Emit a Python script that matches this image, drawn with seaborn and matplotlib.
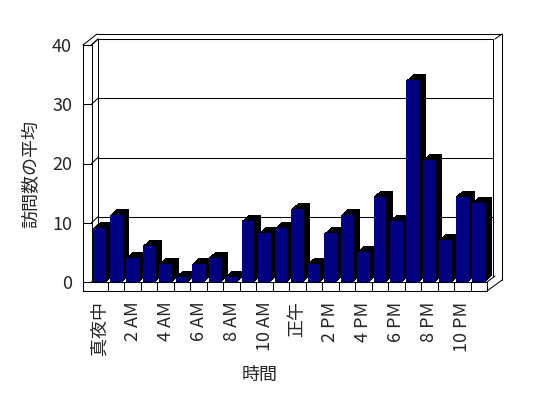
import numpy as np
import pandas as pd
import seaborn as sns
import matplotlib
matplotlib.use('Agg')
import matplotlib.pyplot as plt
from matplotlib.lines import Line2D
from matplotlib.patches import Rectangle
import matplotlib.transforms as mtransforms

# hourly averages
hours = ['真夜中', '1 AM', '2 AM', '3 AM', '4 AM', '5 AM', '6 AM', '7 AM', '8 AM', '9 AM', '10 AM', '11 AM',
         '正午', '1 PM', '2 PM', '3 PM', '4 PM', '5 PM', '6 PM', '7 PM', '8 PM', '9 PM', '10 PM', '11 PM']
visits = [9.1, 11.3, 4.1, 6.1, 3.1, 0.9, 3.1, 4.1, 0.9, 10.3, 8.2, 9.1,
          12.3, 3.1, 8.2, 11.3, 5.1, 14.4, 10.3, 34.1, 20.6, 7.1, 14.4, 13.4]
yticks = [0, 10, 20, 30, 40]

df = pd.DataFrame({'hour': hours, 'visits': visits})

sns.set_style('white')
plt.rcParams['font.family'] = ['Noto Sans CJK JP', 'DejaVu Sans']

W, H = 548, 398
LW = 0.75  # about one pixel
fig = plt.figure(figsize=(W / 100, H / 100), dpi=100, facecolor='white')

# front plane of the fake 3D box, in pixels
x0, x1, ytop, ybot = 91.5, 487, 45, 282
ax = fig.add_axes([x0 / W, 1 - ybot / H, (x1 - x0) / W, (ybot - ytop) / H])
ax.set_facecolor('none')

sns.barplot(data=df, x='hour', y='visits', color='#000080', saturation=1,
            width=0.77, linewidth=0, errorbar=None, ax=ax)

ax.set_xlim(-0.5, len(hours) - 0.5)
ax.set_ylim(0, 40)
for s in ax.spines.values():
    s.set_visible(False)

# depth: black side/top for each bar, later bars drawn over earlier ones
dx, dy = 6.5, 6.0
for i, p in enumerate(ax.containers[0]):
    p.set_zorder(10 + 2 * i + 1)
    p.set_clip_on(False)
    for k in np.linspace(0.08, 1, 13):
        off = mtransforms.ScaledTranslation(k * dx / 100, k * dy / 100, fig.dpi_scale_trans)
        sh = Rectangle((p.get_x(), p.get_y()), p.get_width(), p.get_height(),
                       facecolor='black', edgecolor='none', linewidth=0,
                       transform=ax.transData + off, zorder=10 + 2 * i, clip_on=False)
        ax.add_patch(sh)

# back wall gridlines and edges
back = mtransforms.ScaledTranslation(dx / 100, dy / 100, fig.dpi_scale_trans)
for v in yticks[1:]:
    ax.plot([0, 1], [v, v], transform=ax.get_yaxis_transform() + back,
            color='black', lw=LW, zorder=1, clip_on=False)
for xv in [0, 1]:
    ax.plot([xv, xv], [0, 1], transform=ax.transAxes + back,
            color='black', lw=LW, zorder=1, clip_on=False)

# left wall tick marks and their diagonals
dfrac = dx / (x1 - x0)
dval = dy / (ybot - ytop) * 40
for v in yticks:
    ax.plot([-(x0 - 83) / (x1 - x0), 0], [v, v], transform=ax.get_yaxis_transform(),
            color='black', lw=LW, zorder=2, clip_on=False)
    ax.plot([0, dfrac], [v, v + dval], transform=ax.get_yaxis_transform(),
            color='black', lw=LW, zorder=2, clip_on=False)

# floor category ticks
blend = mtransforms.blended_transform_factory(ax.transData, fig.transFigure)
for k in range(1, len(hours)):
    ax.plot([k - 0.5, k - 0.5], [1 - ybot / H, 1 - 291 / H], transform=blend,
            color='black', lw=LW, zorder=2, clip_on=False)


def px(pts):
    return [p[0] / W for p in pts], [1 - p[1] / H for p in pts]


frame = [
    [(83, 45), (83, 291)],
    [(83, 291), (487, 291)],
    [(83, 45), (91.5, 45)],
    [(91.5, 45), (91.5, 282)],
    [(91.5, 282), (487, 282)],
    [(487, 282), (487, 291)],
    [(83, 45), (97, 34)],
    [(97, 34), (502, 34)],
    [(91.5, 45), (98, 39)],
    [(495, 39), (502, 34)],
    [(502, 34), (502, 280)],
    [(487, 291), (502, 280)],
    [(487, 282), (495, 276)],
]
for seg in frame:
    xs, ys = px(seg)
    fig.add_artist(Line2D(xs, ys, color='black', lw=LW, zorder=5))

ax.set_yticks(yticks)
ax.set_yticklabels([str(v) for v in yticks], fontsize=13)
ax.set_xticks(range(0, len(hours), 2))
ax.set_xticklabels(hours[::2], rotation=90, fontsize=13)
ax.tick_params(axis='y', length=0, pad=14)
ax.tick_params(axis='x', length=0, pad=14)

ax.set_xlabel('時間', fontsize=13)
ax.set_ylabel('訪問数の平均', fontsize=13)
ax.xaxis.set_label_coords((260 - x0) / (x1 - x0), (ybot - 366) / (ybot - ytop))
ax.yaxis.set_label_coords((40 - x0) / (x1 - x0), (ybot - 174) / (ybot - ytop))

fig.savefig('out.png', dpi=100, facecolor='white')
